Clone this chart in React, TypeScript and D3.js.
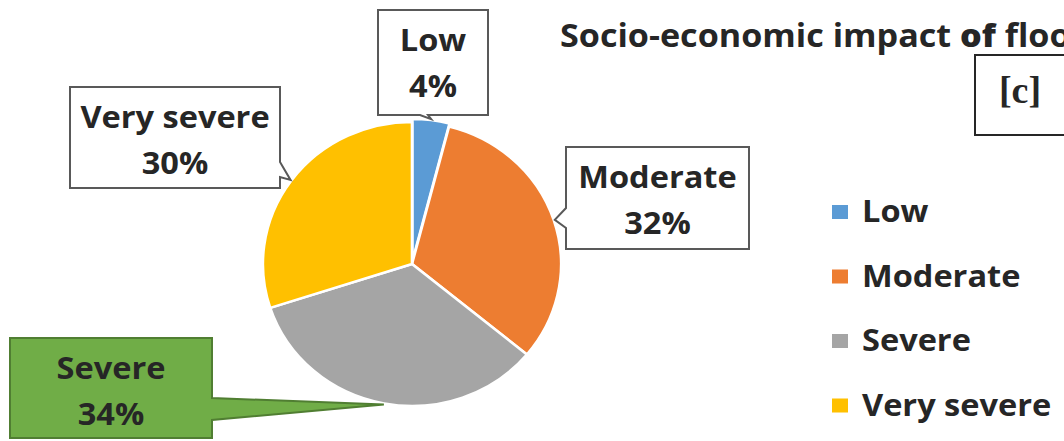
import React from "react";
import * as d3 from "d3";

// Flood impact shares (percent)
const categories = ["Low", "Moderate", "Severe", "Very severe"];
const shares = [4, 32, 34, 30];
const sliceColors = ["#5B9BD5", "#ED7D31", "#A5A5A5", "#FFC000"];
const titleWords = ["Socio-economic impact", "of", "floods"];
const panelTag = "[c]";

const W = 1064;
const H = 441;
const FONT = "'Open Sans', 'Noto Sans', sans-serif";
const TEXT = "#262626";
const STRETCH = 1.05; // horizontal stretch of the whole figure

// Pie geometry
const cx = 412;
const cy = 264;
const R = 142;

type Side = "left" | "right" | "bottom";
interface Callout {
  x: number;
  y: number;
  w: number;
  h: number;
  side: Side;
  base: [number, number];
  fill: string;
  stroke: string;
}

// Callout boxes for the data labels, in category order
const callouts: Callout[] = [
  { x: 378, y: 10, w: 110, h: 105, side: "bottom", base: [420, 428], fill: "#fff", stroke: "#595959" },
  { x: 566, y: 147, w: 183, h: 102, side: "left", base: [208, 228], fill: "#fff", stroke: "#595959" },
  { x: 10, y: 338, w: 202, h: 100, side: "right", base: [398, 420], fill: "#70AD47", stroke: "#507E32" },
  { x: 70, y: 87, w: 210, h: 101, side: "right", base: [162, 177], fill: "#fff", stroke: "#595959" },
];

function calloutPath(c: Callout, tip: [number, number]) {
  const p = d3.path();
  const { x, y, w, h, side, base } = c;
  p.moveTo(x, y);
  p.lineTo(x + w, y);
  if (side === "right") {
    p.lineTo(x + w, base[0]);
    p.lineTo(tip[0], tip[1]);
    p.lineTo(x + w, base[1]);
  }
  p.lineTo(x + w, y + h);
  if (side === "bottom") {
    p.lineTo(base[1], y + h);
    p.lineTo(tip[0], tip[1]);
    p.lineTo(base[0], y + h);
  }
  p.lineTo(x, y + h);
  if (side === "left") {
    p.lineTo(x, base[1]);
    p.lineTo(tip[0], tip[1]);
    p.lineTo(x, base[0]);
  }
  p.closePath();
  return p.toString();
}

function StretchText({
  x,
  y,
  anchor = "middle",
  size = 31,
  family = FONT,
  weight = 700,
  fill = TEXT,
  children,
}: {
  x: number;
  y: number;
  anchor?: string;
  size?: number;
  family?: string;
  weight?: number;
  fill?: string;
  children: React.ReactNode;
}) {
  return (
    <text
      transform={`translate(${x},${y}) scale(${STRETCH},1)`}
      textAnchor={anchor as any}
      fontFamily={family}
      fontSize={size}
      fontWeight={weight}
      fill={fill}
    >
      {children}
    </text>
  );
}

export default function App() {
  const data = categories.map((name, i) => ({ name, value: shares[i], color: sliceColors[i] }));
  const pie = d3.pie<any>().sort(null).value((d) => d.value);
  const arcs = pie(data);
  const arc = d3.arc<any>().innerRadius(0).outerRadius(R);
  const explode = [3, 0, 0, 0];

  const rimPoint = (a: d3.PieArcDatum<any>, i: number): [number, number] => {
    const m = (a.startAngle + a.endAngle) / 2;
    const rr = R + 1 + explode[i];
    return [cx + STRETCH * rr * Math.sin(m), cy - rr * Math.cos(m)];
  };

  const legendX = 832;
  const legendY0 = 222;
  const legendStep = 64.5;

  return (
    <svg
      width={W}
      height={H}
      style={{ position: "absolute", left: 0, top: 0, display: "block", background: "#fff" }}
    >
      <rect width={W} height={H} fill="#fff" />

      {/* pie */}
      <g transform={`translate(${cx},${cy}) scale(${STRETCH},1)`}>
        {arcs.map((a, i) => {
          const m = (a.startAngle + a.endAngle) / 2;
          const dx = explode[i] * Math.sin(m);
          const dy = -explode[i] * Math.cos(m);
          return (
            <path
              key={a.data.name}
              d={arc(a) as string}
              transform={`translate(${dx},${dy})`}
              fill={a.data.color}
              stroke="#fff"
              strokeWidth={2.5}
              strokeLinejoin="round"
            />
          );
        })}
      </g>

      {/* title */}
      <StretchText x={560} y={47} anchor="start" size={32.5}>
        {titleWords[0]} <tspan fontWeight={800}>{titleWords[1]}</tspan> {titleWords[2]}
      </StretchText>

      {/* panel tag */}
      <rect x={975} y={55} width={120} height={80} fill="#fff" stroke="#262626" strokeWidth={2} />
      <text
        x={1020}
        y={103}
        textAnchor="middle"
        fontFamily="'Liberation Serif', 'DejaVu Serif', serif"
        fontWeight={700}
        fontSize={38}
        fill={TEXT}
      >
        {panelTag}
      </text>

      {/* data label callouts */}
      {arcs.map((a, i) => {
        const c = callouts[i];
        const tip = rimPoint(a, i);
        const mid = c.x + c.w / 2;
        return (
          <g key={`lab-${a.data.name}`}>
            <path d={calloutPath(c, tip)} fill={c.fill} stroke={c.stroke} strokeWidth={2} strokeLinejoin="miter" />
            <StretchText x={mid} y={c.y + 41}>
              {a.data.name}
            </StretchText>
            <StretchText x={mid} y={c.y + 87}>
              {`${a.data.value}%`}
            </StretchText>
          </g>
        );
      })}

      {/* legend */}
      {data.map((d, i) => {
        const by = legendY0 + i * legendStep;
        return (
          <g key={`leg-${d.name}`}>
            <rect x={legendX} y={by - 17} width={16} height={14} fill={d.color} />
            <StretchText x={legendX + 30} y={by} anchor="start">
              {d.name}
            </StretchText>
          </g>
        );
      })}
    </svg>
  );
}
